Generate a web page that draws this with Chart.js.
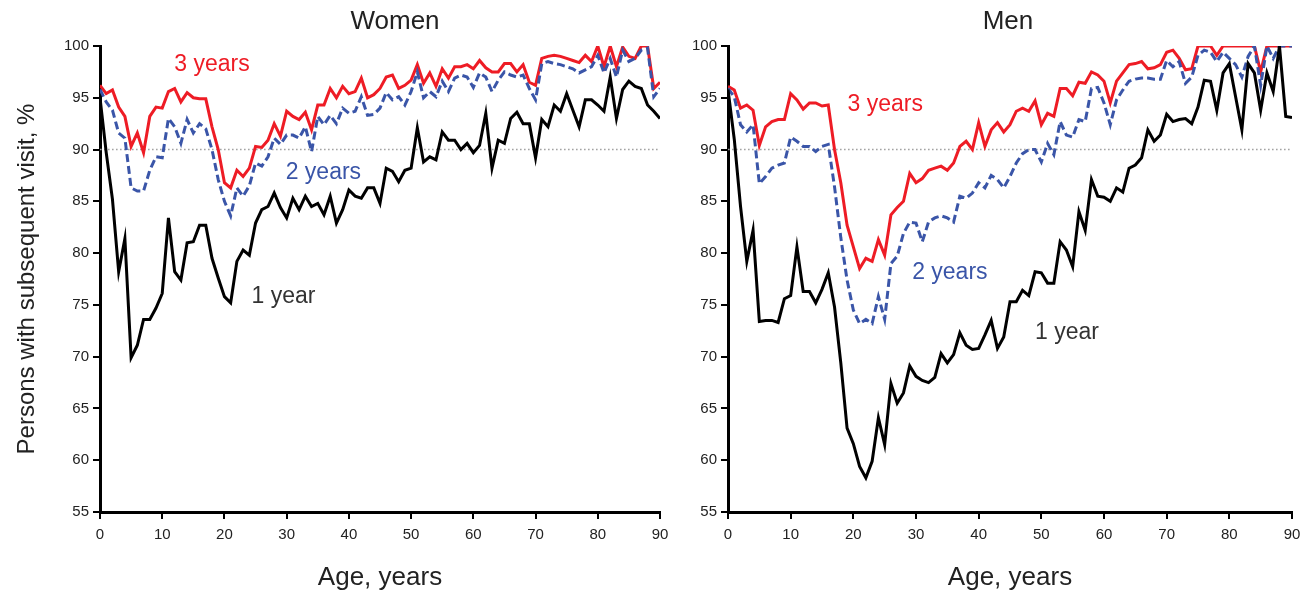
<!DOCTYPE html>
<html>
<head>
<meta charset="utf-8">
<script src="https://cdn.jsdelivr.net/npm/chart.js@4.4.1/dist/chart.umd.min.js"></script>
<style>
  html, body { margin: 0; padding: 0; background: #fff; }
  #wrap { position: relative; width: 1310px; height: 594px; overflow: hidden; }
  .panel { position: absolute; top: 0; height: 594px; }
  #women { left: 0; width: 680px; }
  #men { left: 660px; width: 650px; }
</style>
</head>
<body>
<div id="wrap">
  <div class="panel" id="women"><canvas id="chartWomen"></canvas></div>
  <div class="panel" id="men"><canvas id="chartMen"></canvas></div>
</div>
<script>
// Age in years (x categories)
const AGES = [0,1,2,3,4,5,6,7,8,9,10,11,12,13,14,15,16,17,18,19,20,21,22,23,24,25,26,27,28,29,
  30,31,32,33,34,35,36,37,38,39,40,41,42,43,44,45,46,47,48,49,50,51,52,53,54,55,56,57,58,59,
  60,61,62,63,64,65,66,67,68,69,70,71,72,73,74,75,76,77,78,79,80,81,82,83,84,85,86,87,88,89,90];

const X_TICKS = [0, 10, 20, 30, 40, 50, 60, 70, 80, 90];
const Y_TICKS = [55, 60, 65, 70, 75, 80, 85, 90, 95, 100];
const REFERENCE_LEVEL = 90;

// Women: share with a subsequent visit within 1, 2 and 3 years (%)
const WOMEN_1Y = [95.0,89.7,85.2,78.2,81.4,69.9,71.1,73.6,73.6,74.7,
  76.1,83.4,78.2,77.4,81.0,81.1,82.7,82.7,79.5,77.6,
  75.8,75.2,79.2,80.3,79.8,82.9,84.2,84.5,85.8,84.4,
  83.4,85.3,84.2,85.5,84.5,84.8,83.7,85.5,82.9,84.2,
  86.1,85.5,85.3,86.3,86.3,84.8,88.2,87.9,86.9,88.0,
  88.2,92.1,88.8,89.3,89.0,91.7,90.9,90.9,90.0,90.6,
  89.7,90.4,93.5,88.2,90.9,90.6,93.0,93.6,92.5,92.5,
  89.2,92.9,92.2,94.3,93.7,95.4,93.8,92.2,94.8,94.8,
  94.3,93.7,97.0,93.0,95.8,96.6,96.1,95.9,94.3,93.7,93.0];
const WOMEN_2Y = [95.8,94.6,93.8,91.6,91.1,86.3,86.0,86.0,88.0,89.3,
  89.2,93.0,92.2,90.6,92.9,91.6,92.5,92.0,90.0,87.1,
  85.0,83.6,86.3,85.5,86.5,88.7,88.4,89.3,91.1,90.5,
  91.4,91.4,91.1,92.2,89.8,93.2,92.4,93.3,92.5,94.0,
  93.5,93.7,95.1,93.3,93.4,94.0,95.5,94.8,95.1,94.3,
  95.6,97.5,95.0,95.6,95.1,96.6,95.6,96.9,97.2,97.0,
  96.0,97.4,97.0,95.6,96.7,97.5,97.2,97.0,97.2,95.9,
  94.8,98.3,98.5,98.3,98.2,98.0,97.8,97.4,97.7,98.0,
  99.1,97.4,98.8,97.0,99.6,98.5,98.8,99.6,99.8,95.1,95.9];
const WOMEN_3Y = [96.2,95.4,95.75,94.1,93.2,90.3,91.6,89.7,93.2,94.1,
  94.0,95.6,95.9,94.6,95.5,95.0,94.9,94.9,92.2,90.0,
  86.8,86.3,88.0,87.4,88.2,90.3,90.2,90.9,92.5,91.3,
  93.7,93.2,92.9,93.6,91.9,94.3,94.3,95.9,95.0,96.1,
  95.4,95.6,96.9,95.0,95.3,95.9,97.0,97.2,95.9,96.2,
  96.7,98.2,96.4,97.4,96.1,97.8,96.9,98.0,98.0,98.2,
  97.8,98.6,97.9,97.5,97.5,98.3,98.3,97.5,98.2,96.5,
  96.2,98.8,99.0,99.1,99.0,98.8,98.6,98.4,99.1,98.5,
  100,98.0,100,98.0,99.9,99.0,98.8,100,100,95.9,96.5];

// Men: share with a subsequent visit within 1, 2 and 3 years (%)
const MEN_1Y = [95.8,91.0,84.5,79.2,82.2,73.4,73.5,73.5,73.3,75.6,
  75.9,80.6,76.3,76.3,75.2,76.5,78.1,74.8,69.4,63.1,
  61.6,59.4,58.3,59.9,64.1,61.5,67.4,65.5,66.5,69.1,
  68.1,67.7,67.5,68.0,70.3,69.4,70.2,72.3,71.1,70.7,
  70.8,72.1,73.5,70.8,71.9,75.3,75.3,76.4,75.9,78.2,
  78.1,77.1,77.1,81.1,80.3,78.7,84.0,82.2,87.1,85.5,
  85.4,85.0,86.3,85.9,88.2,88.5,89.2,91.9,90.8,91.4,
  93.4,92.7,92.9,93.0,92.5,94.1,96.7,96.6,93.8,97.4,
  98.3,95.1,91.9,98.3,97.4,93.8,97.4,95.6,100,93.2,93.1];
const MEN_2Y = [95.9,95.1,92.4,91.7,92.4,86.7,87.4,88.2,88.5,88.7,
  91.2,90.8,90.3,90.3,89.8,90.3,90.5,86.4,81.5,77.4,
  74.5,73.2,73.6,73.2,75.8,73.6,79.0,79.7,81.9,83.0,
  82.9,81.1,83.0,83.4,83.6,83.4,83.0,85.5,85.3,85.8,
  86.8,86.3,87.5,87.1,86.3,87.4,88.7,89.6,90.0,90.0,
  88.8,90.6,89.5,92.7,91.4,91.2,92.9,92.7,95.9,96.0,
  94.5,92.4,94.8,95.75,96.6,96.8,96.9,96.9,96.8,96.8,
  98.6,98.0,98.5,96.4,97.0,99.1,99.6,99.4,98.5,99.4,
  98.8,98.2,97.0,99.0,100,96.2,100,98.8,100,100,100];
const MEN_3Y = [96.1,95.75,94.0,94.3,93.8,90.4,92.2,92.7,92.9,92.9,
  95.4,94.8,93.9,94.5,94.5,94.2,94.3,90.0,86.8,82.7,
  80.6,78.5,79.5,79.2,81.3,79.8,83.7,84.4,85.0,87.7,
  86.8,87.2,88.0,88.2,88.4,88.0,88.7,90.3,90.8,90.0,
  92.6,90.3,91.9,92.6,91.7,92.4,93.7,94.0,93.7,94.7,
  92.4,93.5,93.2,95.9,95.9,95.2,96.5,96.4,97.5,97.2,
  96.6,94.5,96.6,97.4,98.2,98.3,98.5,97.8,97.9,98.2,
  99.4,99.6,98.8,97.7,97.8,100,100,100,99.1,100,
  100,100,100,100,100,97.5,100,100,100,100,100];

const SERIES_NAMES = ['1 year', '2 years', '3 years'];

const FONT = "'Liberation Sans', Arial, Helvetica, sans-serif";
const BLACK = '#000000';
const BLUE = '#3a55a8';
const RED = '#ee1c25';
const TEXT = '#222222';

const toPoints = vals => AGES.map((a, i) => ({ x: a, y: vals[i] }));

// In-plot series names, anchored in data coordinates
const seriesLabels = {
  id: 'seriesLabels',
  afterDatasetsDraw(chart, args, opts) {
    const { ctx, scales: { x, y } } = chart;
    ctx.save();
    ctx.font = '23px ' + FONT;
    ctx.textAlign = 'center';
    ctx.textBaseline = 'middle';
    for (const it of opts.items) {
      ctx.fillStyle = it.color;
      ctx.fillText(it.text, x.getPixelForValue(it.at[0]), y.getPixelForValue(it.at[1]));
    }
    ctx.restore();
  }
};

// Panel heading above the plot area
const panelHeading = {
  id: 'panelHeading',
  afterDraw(chart, args, opts) {
    const { ctx, chartArea } = chart;
    ctx.save();
    ctx.font = '26px ' + FONT;
    ctx.fillStyle = TEXT;
    ctx.textAlign = 'center';
    ctx.textBaseline = 'middle';
    ctx.fillText(opts.text, (chartArea.left + chartArea.right) / 2 + opts.shift, chartArea.top - 24);
    ctx.restore();
  }
};

function axisStyle() {
  return {
    grid: { drawOnChartArea: false, drawTicks: true, tickLength: 7, color: BLACK, lineWidth: 2 },
    border: { display: true, color: BLACK, width: 3 },
  };
}

function makePanel(canvasId, title, s1, s2, s3, cfg) {
  return new Chart(document.getElementById(canvasId), {
    type: 'line',
    data: {
      datasets: [
        { label: SERIES_NAMES[0], data: toPoints(s1), borderColor: BLACK, borderWidth: 3, order: 0 },
        { label: SERIES_NAMES[1], data: toPoints(s2), borderColor: BLUE, borderWidth: 3, borderDash: [8, 4], order: 1 },
        { label: SERIES_NAMES[2], data: toPoints(s3), borderColor: RED, borderWidth: 3, order: 2 },
        { label: 'reference', data: [{ x: X_TICKS[0], y: REFERENCE_LEVEL }, { x: X_TICKS[X_TICKS.length - 1], y: REFERENCE_LEVEL }],
          borderColor: '#a3a3a3', borderWidth: 1.6, borderDash: [1.6, 2.4], order: 3 }
      ]
    },
    options: {
      responsive: true,
      maintainAspectRatio: false,
      animation: false,
      events: [],
      layout: { padding: { left: 0, right: cfg.padRight, top: 46, bottom: 0 } },
      elements: { point: { radius: 0 }, line: { tension: 0, fill: false, borderJoinStyle: 'miter' } },
      plugins: {
        legend: { display: false },
        tooltip: { enabled: false },
        title: { display: false },
        panelHeading: { text: title, shift: cfg.titleShift },
        seriesLabels: { items: cfg.labels }
      },
      scales: {
        x: Object.assign(axisStyle(), {
          type: 'linear', min: 0, max: 90,
          afterBuildTicks: s => { s.ticks = X_TICKS.map(v => ({ value: v })); },
          afterFit: s => { s.height = 82; },
          ticks: { padding: 7, color: TEXT, maxRotation: 0, autoSkip: false, font: { family: FONT, size: 15 } },
          title: { display: true, text: 'Age, years', color: TEXT, font: { family: FONT, size: 26 }, padding: { top: 0, bottom: 1 } }
        }),
        y: Object.assign(axisStyle(), {
          type: 'linear', min: 55, max: 100,
          afterBuildTicks: s => { s.ticks = Y_TICKS.map(v => ({ value: v })); },
          afterFit: s => { s.width = cfg.yWidth; },
          ticks: { padding: 4, color: TEXT, font: { family: FONT, size: 15 } },
          title: { display: cfg.yTitle, text: 'Persons with subsequent visit, %', color: TEXT,
                   font: { family: FONT, size: 24 }, padding: { top: 13, bottom: 0 } }
        })
      }
    },
    plugins: [seriesLabels, panelHeading]
  });
}

makePanel('chartWomen', 'Women', WOMEN_1Y, WOMEN_2Y, WOMEN_3Y, {
  padRight: 20, yWidth: 100, yTitle: true, titleShift: 15,
  labels: [
    { text: SERIES_NAMES[2], color: RED, at: [18, 98.2] },
    { text: SERIES_NAMES[1], color: BLUE, at: [35.9, 87.8] },
    { text: SERIES_NAMES[0], color: '#333333', at: [29.5, 75.8] }
  ]
});

makePanel('chartMen', 'Men', MEN_1Y, MEN_2Y, MEN_3Y, {
  padRight: 18, yWidth: 68, yTitle: false, titleShift: -2,
  labels: [
    { text: SERIES_NAMES[2], color: RED, at: [25.1, 94.3] },
    { text: SERIES_NAMES[1], color: BLUE, at: [35.4, 78.1] },
    { text: SERIES_NAMES[0], color: '#333333', at: [54.1, 72.3] }
  ]
});
</script>
</body>
</html>
